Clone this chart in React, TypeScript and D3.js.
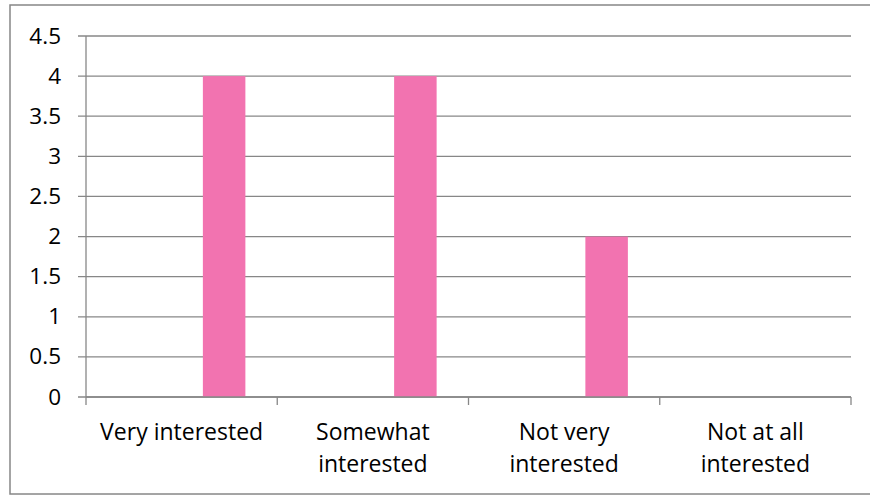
import React from "react";
import * as d3 from "d3";

const categories = ["Very interested", "Somewhat interested", "Not very interested", "Not at all interested"];
const categoryLabelLines = [["Very interested"], ["Somewhat", "interested"], ["Not very", "interested"], ["Not at all", "interested"]];
const seriesNames = ["Series1", "Series2", "Series3"];
const series1: (number | null)[] = [null, null, null, null];
const series2: (number | null)[] = [null, null, null, null];
const series3: (number | null)[] = [4, 4, 2, 0];
const yTicks = [0, 0.5, 1, 1.5, 2, 2.5, 3, 3.5, 4, 4.5];
const yTickLabels = ["0", "0.5", "1", "1.5", "2", "2.5", "3", "3.5", "4", "4.5"];

const W = 870, H = 496;
const FONT = "'Open Sans', Lato, sans-serif";

export default function App() {
  const left = 86, right = 851, top = 36, bottom = 397;
  const y = d3.scaleLinear().domain([0, 4.5]).range([bottom, top]);
  const x = d3.scaleBand<string>().domain(categories).range([left, right]).padding(0);
  const xs = d3.scaleBand<string>().domain(seriesNames).range([0, x.bandwidth()]).paddingInner(0).paddingOuter(0.75);
  const allSeries = [series1, series2, series3];
  const colors = ["#4F81BD", "#C0504D", "#F273B0"];
  const grid = "#878787";

  return (
    <svg width={W} height={H} style={{ position: "fixed", left: 0, top: 0, background: "#fff" }}>
      <rect x={0} y={0} width={W} height={H} fill="#fff" />
      <rect x={10} y={5} width={880} height={489} fill="none" stroke="#878787" strokeWidth={1.5} />
      {yTicks.map((t) => (
        <line key={"g" + t} x1={78} x2={right} y1={y(t)} y2={y(t)} stroke={grid} strokeWidth={1.3} />
      ))}
      {yTicks.map((t, i) => (
        <text key={"yt" + t} x={61} y={y(t) + 7.5} textAnchor="end" fontFamily={FONT} fontSize={22.5} fill="#000">
          {yTickLabels[i]}
        </text>
      ))}
      {allSeries.map((s, si) =>
        s.map((v, ci) =>
          v == null || v === 0 ? null : (
            <rect
              key={"b" + si + "-" + ci}
              x={(x(categories[ci]) as number) + (xs(seriesNames[si]) as number)}
              y={y(v)}
              width={xs.bandwidth()}
              height={y(0) - y(v)}
              fill={colors[si]}
            />
          )
        )
      )}
      <line x1={left} x2={left} y1={top} y2={bottom + 8} stroke={grid} strokeWidth={1.3} />
      <line x1={left} x2={right} y1={bottom} y2={bottom} stroke={grid} strokeWidth={1.3} />
      {categories.map((c) => (
        <line key={"xt" + c} x1={(x(c) as number) + x.bandwidth()} x2={(x(c) as number) + x.bandwidth()} y1={bottom} y2={bottom + 8} stroke={grid} strokeWidth={1.3} />
      ))}
      {categories.map((c, ci) => (
        <text key={"xl" + c} textAnchor="middle" fontFamily={FONT} fontSize={23} fill="#000">
          {categoryLabelLines[ci].map((line, li) => (
            <tspan key={li} x={(x(c) as number) + x.bandwidth() / 2} y={440 + li * 31.5}>
              {line}
            </tspan>
          ))}
        </text>
      ))}
    </svg>
  );
}
